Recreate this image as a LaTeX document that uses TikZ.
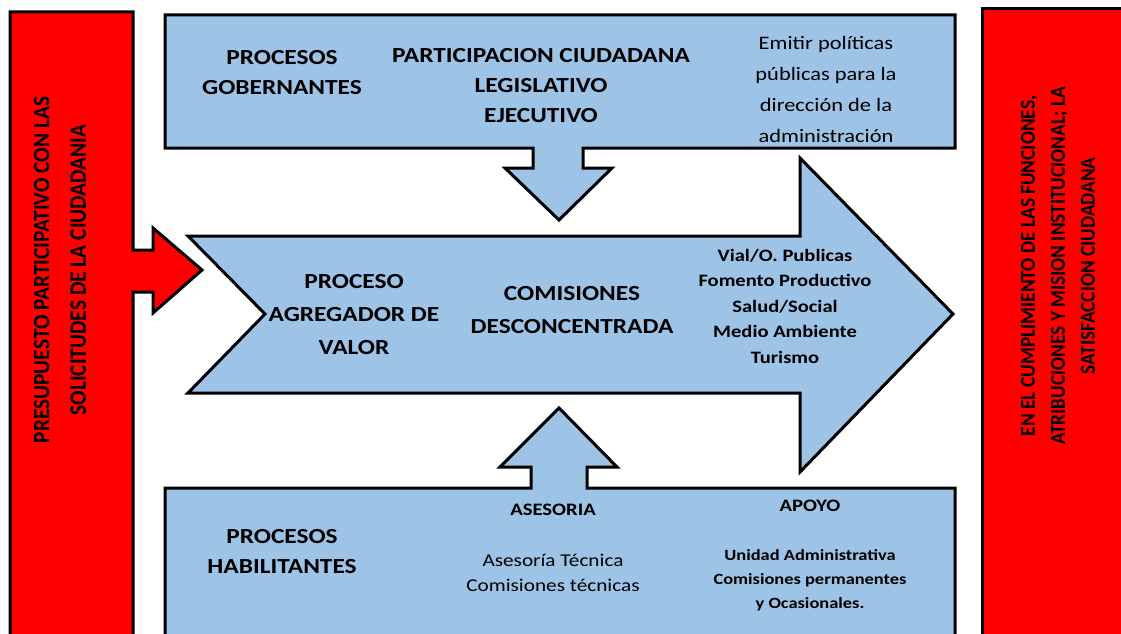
\documentclass[tikz,border=0pt]{standalone}
\usepackage{fontspec}
\setmainfont{Carlito}
\definecolor{boxblue}{RGB}{157,195,230}
\definecolor{boxred}{RGB}{255,0,0}
\tikzset{
  shapeblue/.style={fill=boxblue, draw=black, line width=3pt, line join=miter},
  shapered/.style={fill=boxred, draw=black, line width=3pt, line join=miter},
  basetext/.style={align=center, inner sep=0pt, xscale=1.18},
  capstext/.style={basetext, font=\bfseries\fontsize{21.5}{30}\selectfont},
  agrtext/.style={basetext, font=\bfseries\fontsize{21.5}{33}\selectfont},
  smalltext/.style={basetext, font=\fontsize{19}{31}\selectfont},
  listtext/.style={basetext, font=\bfseries\fontsize{17.4}{25.5}\selectfont},
  subtext/.style={basetext, font=\fontsize{18}{25}\selectfont},
  subbold/.style={basetext, font=\bfseries\fontsize{15.6}{24}\selectfont},
  headtext/.style={basetext, font=\bfseries\fontsize{17.5}{20}\selectfont},
  verttext/.style={align=center, inner sep=0pt, xscale=1.1, rotate=90, font=\bfseries\fontsize{21.4}{33}\selectfont},
  verttextR/.style={align=center, inner sep=0pt, xscale=1.1, rotate=90, font=\bfseries\fontsize{19.3}{27.3}\selectfont}
}
\begin{document}
\begin{tikzpicture}[x=1pt, y=-1pt]
\useasboundingbox (0,0) rectangle (1121,634);
\fill[white] (0,0) rectangle (1121,634);
\clip (0,0) rectangle (1121,634);
% left red shape with arrow
\draw[shapered] (10,12) -- (133,12) -- (133,250) -- (153,250) -- (153,228) -- (202,270)
  -- (153,313) -- (153,292) -- (133,292) -- (133,660) -- (10,660) -- cycle;
% right red rectangle
\draw[shapered] (982,9) rectangle (1140,660);
% top box with down arrow
\draw[shapeblue] (165,15) -- (955,15) -- (955,148) -- (583,148) -- (583,168) -- (612,168)
  -- (559,220) -- (505,168) -- (533,168) -- (533,148) -- (165,148) -- cycle;
% big arrow
\draw[shapeblue] (188,236) -- (800,236) -- (800,158) -- (953,314) -- (800,472) -- (800,393)
  -- (188,393) -- (265,314) -- cycle;
% bottom box with up arrow
\draw[shapeblue] (165,488) -- (531,488) -- (531,467) -- (500,467) -- (559,408) -- (617,467)
  -- (587,467) -- (587,488) -- (955,488) -- (955,660) -- (165,660) -- cycle;
% texts
\node[verttext] (lefttext) at (60,270) {PRESUPUESTO PARTICIPATIVO CON LAS\\SOLICITUDES DE LA CIUDADANIA};
\node[verttextR] (righttext) at (1058,266) {EN EL CUMPLIMIENTO DE LAS FUNCIONES,\\ATRIBUCIONES Y MISION INSTITUCIONAL; LA\\SATISFACCION CIUDADANA};
\node[capstext] (gob) at (282,73) {PROCESOS\\GOBERNANTES};
\node[capstext] (part) at (541,86) {PARTICIPACION CIUDADANA\\LEGISLATIVO\\EJECUTIVO};
\node[smalltext] (emitir) at (826,89) {Emitir políticas\\públicas para la\\dirección de la\\administración};
\node[agrtext] (agreg) at (354,315) {PROCESO\\AGREGADOR DE\\VALOR};
\node[agrtext] (comis) at (572,310) {COMISIONES\\DESCONCENTRADA};
\node[listtext] (vial) at (785,306) {Vial/O. Publicas\\Fomento Productivo\\Salud/Social\\Medio Ambiente\\Turismo};
\node[capstext] (hab) at (282,552) {PROCESOS\\HABILITANTES};
\node[headtext] (ases) at (553,510) {ASESORIA};
\node[subtext] (asestec) at (553,573) {Asesoría Técnica\\Comisiones técnicas};
\node[headtext] (apoyo) at (810,506) {APOYO};
\node[subbold] (unidad) at (810,580) {Unidad Administrativa\\Comisiones permanentes\\y Ocasionales.};
\end{tikzpicture}
\end{document}
